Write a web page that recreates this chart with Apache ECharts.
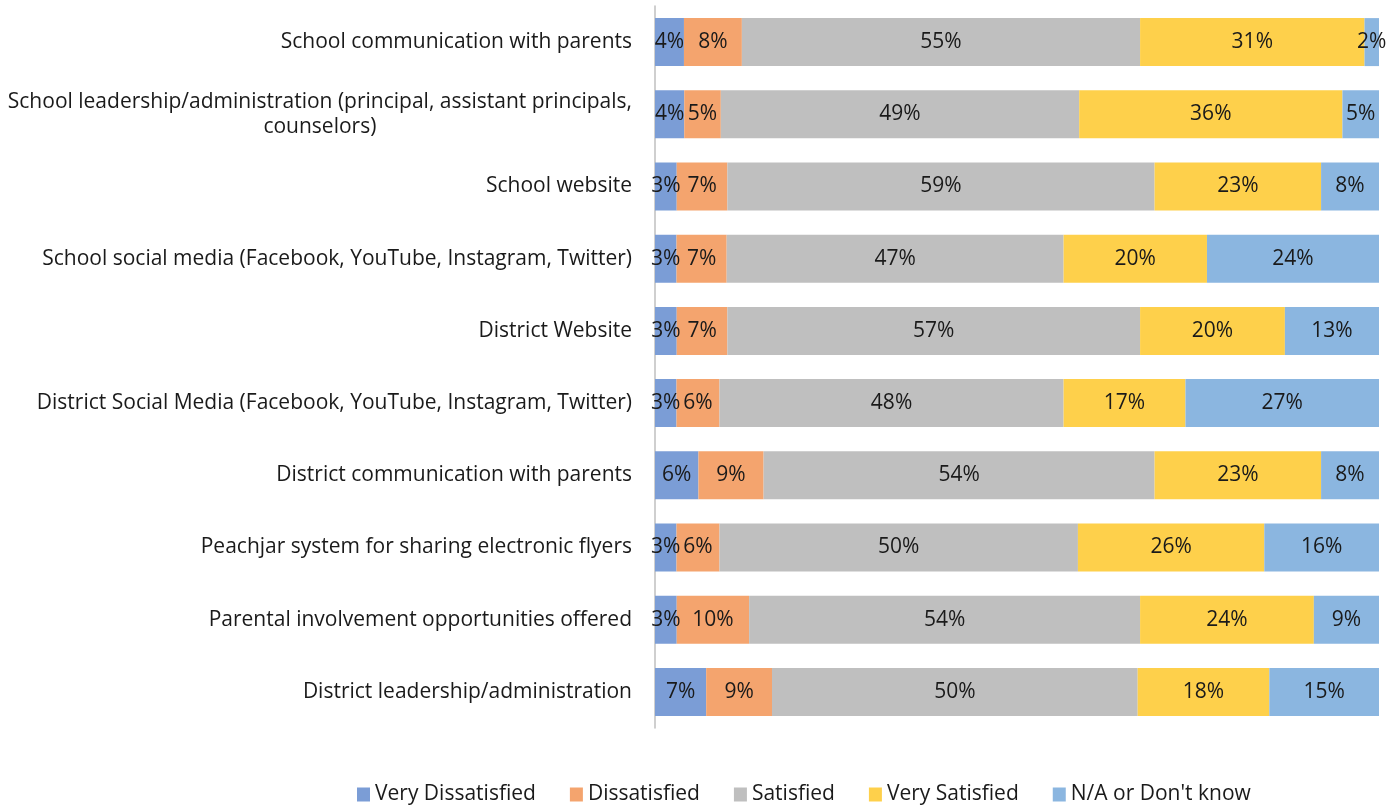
<!DOCTYPE html>
<html>
<head>
<meta charset="utf-8">
<script src="https://cdn.jsdelivr.net/npm/echarts@6/dist/echarts.min.js"></script>
<style>
  html, body { margin: 0; padding: 0; background: #fff; }
  #chart { width: 1395px; height: 808px; }
</style>
</head>
<body>
<div id="chart"></div>
<script>
// Survey items, top to bottom
const categories = [
  'School communication with parents',
  'School leadership/administration (principal, assistant principals,\ncounselors)',
  'School website',
  'School social media (Facebook, YouTube, Instagram, Twitter)',
  'District Website',
  'District Social Media (Facebook, YouTube, Instagram, Twitter)',
  'District communication with parents',
  'Peachjar system for sharing electronic flyers',
  'Parental involvement opportunities offered',
  'District leadership/administration'
];

// Response shares (%) per item
const veryDissatisfied = [4, 4, 3, 3, 3, 3, 6, 3, 3, 7];
const dissatisfied     = [8, 5, 7, 7, 7, 6, 9, 6, 10, 9];
const satisfied        = [55, 49, 59, 47, 57, 48, 54, 50, 54, 50];
const verySatisfied    = [31, 36, 23, 20, 20, 17, 23, 26, 24, 18];
const naDontKnow       = [2, 5, 8, 24, 13, 27, 8, 16, 9, 15];

const seriesNames  = ['Very Dissatisfied', 'Dissatisfied', 'Satisfied', 'Very Satisfied', "N/A or Don't know"];
const seriesValues = [veryDissatisfied, dissatisfied, satisfied, verySatisfied, naDontKnow];
const seriesColors = ['#7b9dd6', '#f4a46e', '#bfbfbf', '#fed04b', '#8bb6e0'];

// Each row is scaled to fill 100% (like a 100% stacked bar); labels keep the raw values
const rowTotals = categories.map((_, i) => seriesValues.reduce((s, arr) => s + arr[i], 0));

const FONT = '"Open Sans", "Noto Sans", sans-serif';
const TEXT = '#1a1a1a';

const chart = echarts.init(document.getElementById('chart'));
chart.setOption({
  animation: false,
  textStyle: { fontFamily: FONT },
  grid: { left: 655, right: 16, top: 6, height: 722, containLabel: false },
  xAxis: { type: 'value', min: 0, max: 100, show: false },
  yAxis: {
    type: 'category',
    inverse: true,
    data: categories,
    axisTick: { show: false },
    axisLine: { show: true, lineStyle: { color: '#bfbfbf', width: 1.5 } },
    axisLabel: {
      margin: 23,
      align: 'right',
      color: TEXT,
      fontSize: 21,
      fontFamily: FONT,
      lineHeight: 25,
      formatter: v => v.split('\n').map(l => '{c|' + l + '}').join('\n'),
      rich: { c: { align: 'center', fontSize: 21, fontFamily: FONT, color: TEXT, lineHeight: 25 } }
    }
  },
  legend: {
    left: 352,
    top: 779,
    icon: 'rect',
    itemWidth: 13,
    itemHeight: 14,
    itemGap: 34,
    textStyle: { fontSize: 21, color: TEXT, fontFamily: FONT },
    data: seriesNames
  },
  series: seriesNames.map((name, k) => ({
    name,
    type: 'bar',
    stack: 'total',
    barWidth: 48,
    itemStyle: { color: seriesColors[k] },
    label: {
      show: true,
      position: 'inside',
      color: TEXT,
      fontSize: 21,
      fontFamily: FONT,
      formatter: p => seriesValues[k][p.dataIndex] + '%'
    },
    data: seriesValues[k].map((v, i) => v / rowTotals[i] * 100)
  }))
});
</script>
</body>
</html>
